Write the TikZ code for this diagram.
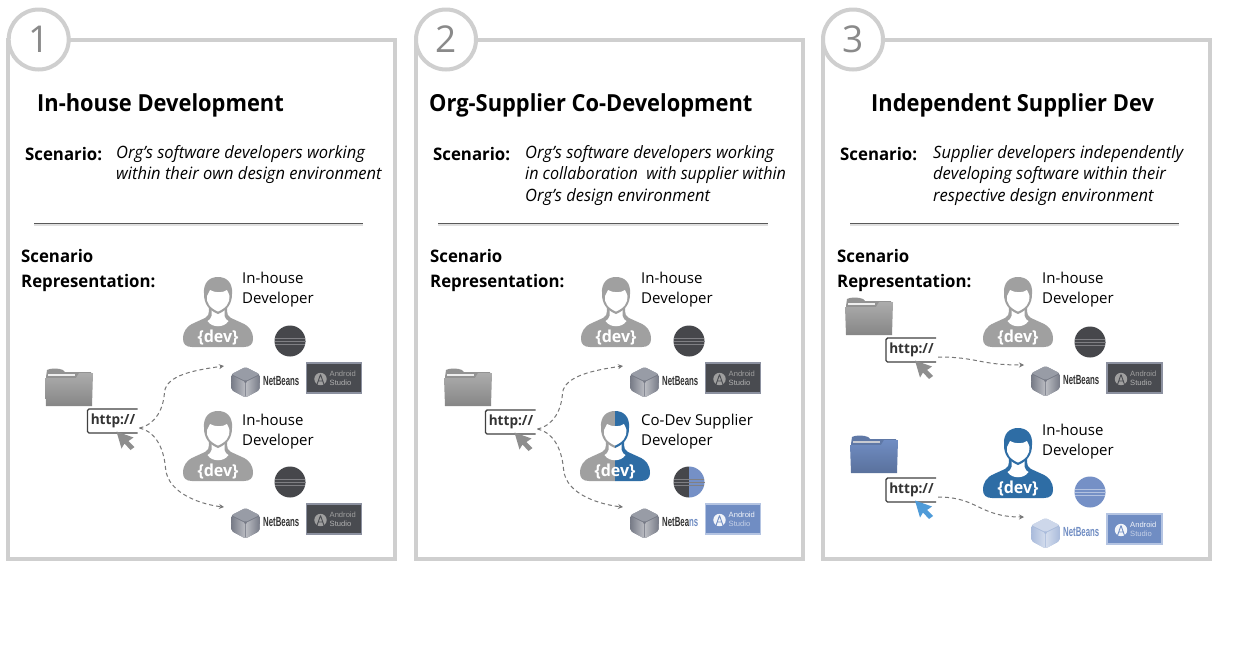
\documentclass[tikz,border=0pt]{standalone}
\usepackage{fontspec}
\usepackage{graphicx}
\usetikzlibrary{calc,arrows.meta}
\setmainfont{Open Sans}
\newfontfamily\titlefont[RawFeature={extend=0.93}]{Open Sans}
\newfontfamily\boldf[RawFeature={extend=0.97}]{Open Sans}
\newfontfamily\bodyf{Open Sans}
\newfontfamily\itf[RawFeature={extend=0.97}]{Open Sans Italic}
\newfontfamily\nbf{Liberation Sans}
\definecolor{frame}{HTML}{CFCFCF}
\definecolor{numgray}{HTML}{8A8A8A}
\definecolor{pgray}{HTML}{A0A0A0}
\definecolor{pblue}{HTML}{2E6DA5}
\definecolor{ecdark}{HTML}{46474B}
\definecolor{ecblue}{HTML}{7590C6}
\definecolor{ecline}{HTML}{808084}
\definecolor{andark}{HTML}{494B50}
\definecolor{anbord}{HTML}{8C91A0}
\definecolor{anblue}{HTML}{708DC3}
\definecolor{anbbord}{HTML}{B4C4E2}
\definecolor{linkc}{HTML}{777777}
\definecolor{cubetop}{HTML}{989CA6}
\definecolor{cubeside}{HTML}{767A86}
\definecolor{cursg}{HTML}{8E8E8E}
\definecolor{cursb}{HTML}{4F9BD8}
\tikzset{
  x=1pt,y=-1pt,
  panelframe/.style={draw=frame,line width=4pt,fill=white},
  numring/.style={circle,draw=frame,line width=4pt,fill=white,minimum size=60pt,inner sep=0pt,text=numgray,font=\fontsize{37}{37}\selectfont},
  ttl/.style={anchor=mid west,inner sep=0pt,yshift=-6pt,font=\titlefont\bfseries\fontsize{23.5}{23.5}\selectfont,text=black},
  lbl/.style={anchor=mid west,inner sep=0pt,yshift=-4pt,font=\boldf\bfseries\fontsize{17.3}{17.3}\selectfont,text=black},
  scen/.style={anchor=mid west,inner sep=0pt,yshift=-3pt,font=\itf\fontsize{17}{17}\selectfont,text=black},
  devname/.style={anchor=mid west,inner sep=0pt,yshift=-3pt,font=\bodyf\fontsize{15}{15}\selectfont,text=black},
  devtag/.style={inner sep=0pt,text=white,font=\boldf\bfseries\fontsize{16.5}{16.5}\selectfont},
  link/.style={draw=linkc,line width=1pt,dash pattern=on 4pt off 3pt,-{Stealth[length=5pt,width=5pt]}},
  rulel/.style={draw=black!65,line width=.9pt},
  httpt/.style={inner sep=0pt,text=black!80,font=\boldf\bfseries\fontsize{14}{14}\selectfont},
  ant/.style={anchor=mid west,inner sep=0pt,font=\nbf\fontsize{7.6}{7.6}\selectfont},
  nbt/.style={anchor=mid west,inner sep=0pt,font=\nbf\bfseries\fontsize{11.5}{11.5}\selectfont},
}
\newcommand\personbody[1]{%
  \fill[#1] (-35,62) .. controls (-35,54) and (-31,49) .. (-24,46) -- (-13,41)
     .. controls (-10,40) and (-9,38) .. (-9,30) -- (9,30) .. controls (9,38) and (10,40) .. (13,41) -- (24,46)
     .. controls (31,49) and (35,54) .. (35,62) .. controls (35,67) and (32,70) .. (26,70) -- (-26,70)
     .. controls (-32,70) and (-35,67) .. (-35,62) -- cycle;
  \fill[white] (-6.5,30) -- (-6.5,39) .. controls (-7,42) and (-9,43) .. (-10.5,44) .. controls (-6,51) and (6,51) .. (10.5,44)
     .. controls (9,43) and (7,42) .. (6.5,39) -- (6.5,30) -- cycle;
  \fill[#1] (-14,17) .. controls (-15,5) and (-8,0) .. (0,0) .. controls (8,0) and (15,5) .. (14,17)
     .. controls (14,26) and (10,33) .. (0,37) .. controls (-10,33) and (-14,26) .. (-14,17) -- cycle;
  \fill[white] (-11,19) .. controls (-10,17) and (-9,15) .. (-8,13) .. controls (-3,16) and (5,16) .. (9,13)
     .. controls (10,15) and (11,17) .. (11.5,19) .. controls (12,26) and (8,31) .. (0,34.5) .. controls (-8,31) and (-12,26) .. (-11,19) -- cycle;
}
\newcommand\person[5]{%
  \begin{scope}[shift={(#2,#3)}]
    \begin{scope}\clip (-40,-5) rectangle (0,80); \personbody{#4}\end{scope}
    \begin{scope}\clip (0,-5) rectangle (40,80); \personbody{#5}\end{scope}
    \node[devtag] (#1) at (0,60.5) {\{dev\}};
  \end{scope}}
\newcommand\folder[5]{%
  \begin{scope}[shift={(#1,#2)}]
    \fill[#3] (1,9) -- (2,2) .. controls (5,0) and (14,0) .. (18,2) -- (20,4) -- (46,4) -- (47,12) -- (1,12) -- cycle;
    \fill[white!85!#3] (3,6) -- (30,6) -- (30,8) -- (3,8) -- cycle;
    \shade[top color=#4,bottom color=#5] (0,10) -- (31,10) -- (34,5) -- (48,5) -- (47,38) -- (1,38) -- cycle;
  \end{scope}}
\newcommand\httpbox[4]{%
  \begin{scope}[shift={(#2,#3)}]
    \draw[black!75,line width=1.4pt,rounded corners=1.5pt] (50,0) -- (0,0) -- (0,24) -- (50,24);
    \node[httpt] (#1) at (25.5,12) {http://};
    \fill[#4] (29,22.5) -- (46,28.5) -- (41,32) -- (47,38) -- (43,41) -- (37,34.5) -- (34,39.5) -- cycle;
    \coordinate (#1-out) at (52,19);
  \end{scope}}
\newcommand\eclipse[5]{%
  \begin{scope}[shift={(#1,#2)}]
    \begin{scope}\clip (-17,-17) rectangle (0,17); \fill[#3] (0,0) circle[radius=15.5];\end{scope}
    \begin{scope}\clip (0,-17) rectangle (17,17); \fill[#4] (0,0) circle[radius=15.5];\end{scope}
    \draw[#5,line width=.7pt] (-15.3,-3) -- (15.3,-3) (-15.5,0.2) -- (15.5,0.2) (-15.2,3.5) -- (15.2,3.5);
  \end{scope}}
\newcommand\cube[6]{%
  \begin{scope}[shift={(#2,#3)},line join=round]
    \fill[#5,rounded corners=2pt] (-14.5,-7.5) -- (0,-15) -- (14.5,-7.5) -- (14,8) -- (0,15.5) -- (-14,8) -- cycle;
    \fill[#4,rounded corners=1.5pt] (-14,-8) -- (0,-15) -- (14,-8) -- (0,-1) -- cycle;
    \shade[left color=#5,right color=white!50!#5,rounded corners=1.5pt] (-14.5,-7) -- (-.3,0) -- (-.3,15.5) -- (-14,8) -- cycle;
    \shade[left color=white!50!#6,right color=#6,rounded corners=1.5pt] (14.5,-7) -- (.3,0) -- (.3,15.5) -- (14,8) -- cycle;
    \coordinate (#1) at (-21.5,-16);
  \end{scope}}
\newcommand\android[6]{%
  \begin{scope}[shift={(#1,#2)}]
    \draw[draw=#4,fill=#3,line width=1.5pt] (0,0) rectangle (55,30);
    \fill[#5] (14,16) circle[radius=6.2];
    \draw[#3,line width=.9pt] (14,11.5) -- (10.5,21.5) (14,11.5) -- (17.5,21.5) (11.5,18) -- (16.5,18);
    \node[ant,text=#5] at (23,10.5) {Android};
    \node[ant,text=#6] at (23,20) {Studio};
  \end{scope}}
\newcommand\panel[4]{%
  \draw[panelframe] (#1,39.5) -- (#1+387,39.5) -- (#1+387,558.5) -- (#1,558.5) -- cycle;
  \node[numring] (num#4) at (#2,39.5) {#3};
}
\newcommand\nbword[3]{\node[nbt,text=#3] at (#1,#2) {\scalebox{.68}[1.15]{NetBeans}};}
\begin{document}
\begin{tikzpicture}
\useasboundingbox (0,0) rectangle (1234,670);
\fill[white] (0,0) rectangle (1234,670);
\panel{8}{38.7}{1}{a}
\panel{416}{446}{2}{b}
\panel{823}{853}{3}{c}
\node[ttl] (t1) at (37,103) {In-house Development};
\node[ttl] (t2) at (429,103) {Org-Supplier Co-Development};
\node[ttl] (t3) at (871,103) {Independent Supplier Dev};
\node[lbl] (s1) at (25,154) {Scenario:};
\node[lbl] (s2) at (433,154) {Scenario:};
\node[lbl] (s3) at (840,154) {Scenario:};
\node[scen] (s1a) at (116,153) {Org’s software developers working};
\node[scen] (s1b) at (116,174) {within their own design environment};
\node[scen] (s2a) at (525,153) {Org’s software developers working};
\node[scen] (s2b) at (525,174) {\scalebox{.978}[1]{in collaboration\ \ with supplier within}};
\node[scen] (s2c) at (525,196) {Org’s design environment};
\node[scen] (s3a) at (933,153) {Supplier developers independently};
\node[scen] (s3b) at (933,174) {developing software within their};
\node[scen] (s3c) at (933,196) {respective design environment};
\draw[black!12,line width=1.5pt] (34,225) -- (363,225) (438,225) -- (768,225) (850,225) -- (1179,225);
\draw[rulel] (34,223) -- (363,223);
\draw[rulel] (438,223) -- (768,223);
\draw[rulel] (850,223) -- (1179,223);
\node[lbl] (r1a) at (21,256) {Scenario};
\node[lbl] (r1b) at (21,281) {Representation:};
\node[lbl] (r2a) at (430,256) {Scenario};
\node[lbl] (r2b) at (430,281) {Representation:};
\node[lbl] (r3a) at (837,256) {Scenario};
\node[lbl] (r3b) at (837,281) {Representation:};
\node[devname] (d1a) at (242,278) {In-house};
\node[devname] (d1b) at (242,298) {Developer};
\node[devname] (d1c) at (242,420) {In-house};
\node[devname] (d1d) at (242,440) {Developer};
\node[devname] (d2a) at (641,278) {In-house};
\node[devname] (d2b) at (641,298) {Developer};
\node[devname] (d2c) at (641,420) {Co-Dev Supplier};
\node[devname] (d2d) at (641,440) {Developer};
\node[devname] (d3a) at (1042,278) {In-house};
\node[devname] (d3b) at (1042,298) {Developer};
\node[devname] (d3c) at (1042,430) {In-house};
\node[devname] (d3d) at (1042,450) {Developer};
\person{p1a}{218}{277}{pgray}{pgray}
\person{p1b}{218}{411}{pgray}{pgray}
\person{p2a}{616}{277}{pgray}{pgray}
\person{p2b}{615}{411}{pgray}{pblue}
\person{p3a}{1018}{277}{pgray}{pgray}
\person{p3b}{1018}{428}{pblue}{pblue}
\folder{45}{368}{gray!85}{gray!65}{gray!95}
\folder{444}{368}{gray!85}{gray!65}{gray!95}
\folder{845}{297}{gray!85}{gray!65}{gray!95}
\folder{850}{435}{anblue!85!black}{anblue}{anblue!80!black}
\httpbox{h1}{87.5}{409}{cursg}
\httpbox{h2}{485.5}{410}{cursg}
\httpbox{h3}{886}{338}{cursg}
\httpbox{h4}{886}{478}{cursb}
\eclipse{290}{341}{ecdark}{ecdark}{ecline}
\eclipse{290}{482}{ecdark}{ecdark}{ecline}
\eclipse{689}{341}{ecdark}{ecdark}{ecline}
\eclipse{689}{482}{ecdark}{ecblue}{ecline}
\eclipse{1090}{342}{ecdark}{ecdark}{ecline}
\eclipse{1090}{492}{ecblue}{ecblue}{white!45!ecblue}
\cube{n1}{245.5}{382}{cubetop}{cubeside}{cubeside}
\cube{n2}{245.5}{523}{cubetop}{cubeside}{cubeside}
\cube{n3}{644.5}{382}{cubetop}{cubeside}{cubeside}
\cube{n4}{644.5}{523}{cubetop}{cubeside}{cubeside}
\cube{n5}{1045.5}{381}{cubetop}{cubeside}{cubeside}
\cube{n6}{1045.5}{533}{anblue!35!white}{anblue!60!white}{anblue!60!white}
\nbword{263}{383}{black!80}
\nbword{263}{524}{black!80}
\nbword{662}{383}{black!80}
\node[nbt,text=black!80] at (662,524) {\scalebox{.68}[1.15]{NetBea\textcolor{anblue}{ns}}};
\nbword{1063}{382}{black!80}
\nbword{1063}{534}{anblue}
\android{306.5}{363}{andark}{anbord}{gray!75}{gray!60}
\android{306.5}{504}{andark}{anbord}{gray!75}{gray!60}
\android{705.5}{363}{andark}{anbord}{gray!75}{gray!60}
\android{705.5}{504}{anblue}{anbbord}{white!90!anblue}{white!60!anblue}
\android{1107}{363}{andark}{anbord}{gray!75}{gray!60}
\android{1107}{514}{anblue}{anbbord}{white!90!anblue}{white!60!anblue}
\draw[link] (h1-out) .. controls +(17,-4) and +(-1,16) .. ($(h1-out)+(25,-36)$) .. controls +(2,-17) and +(-29,4) .. (n1);
\draw[link] (h1-out) .. controls +(14,3) and +(-2,-23) .. ($(h1-out)+(26,40)$) .. controls +(2,27) and +(-19,-2) .. (n2);
\draw[link] (h2-out) .. controls +(17,-4) and +(-1,16) .. ($(h2-out)+(25,-36)$) .. controls +(2,-17) and +(-29,4) .. (n3);
\draw[link] (h2-out) .. controls +(14,3) and +(-2,-23) .. ($(h2-out)+(26,40)$) .. controls +(2,27) and +(-19,-2) .. (n4);
\draw[link] (h3-out) .. controls +(40,0) and +(-45,0) .. (n5);
\draw[link] (h4-out) .. controls +(40,0) and +(-45,0) .. (n6);
\end{tikzpicture}
\end{document}
